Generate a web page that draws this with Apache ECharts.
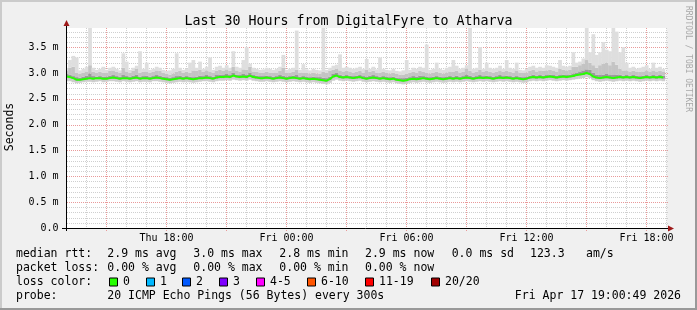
<!DOCTYPE html>
<html><head><meta charset="utf-8">
<script src="https://cdn.jsdelivr.net/npm/echarts@6/dist/echarts.min.js"></script>
<style>html,body{margin:0;padding:0;background:#f0f0f0}#c{width:697px;height:310px}</style>
</head><body><div id="c"></div>
<script>
// time: hours since Thu 00:00; samples every 10 minutes starting Thu 13:00
const startHour = 13;
const stepHours = 1 / 6;

const median = [
2.93,2.92,2.90,2.87,2.87,2.88,2.89,2.90,2.89,2.90,2.90,2.89,
2.89,2.90,2.91,2.90,2.89,2.90,2.90,2.89,2.90,2.91,2.89,2.90,
2.90,2.89,2.90,2.91,2.90,2.89,2.88,2.87,2.88,2.89,2.90,2.89,
2.90,2.89,2.88,2.89,2.90,2.90,2.91,2.90,2.89,2.91,2.92,2.92,
2.93,2.92,2.95,2.93,2.92,2.93,2.92,2.95,2.92,2.91,2.90,2.90,
2.91,2.90,2.89,2.90,2.91,2.90,2.89,2.90,2.91,2.90,2.89,2.90,
2.89,2.88,2.89,2.88,2.87,2.86,2.85,2.88,2.93,2.95,2.92,2.91,
2.92,2.91,2.90,2.91,2.92,2.90,2.89,2.90,2.91,2.90,2.89,2.90,
2.89,2.88,2.89,2.87,2.86,2.85,2.86,2.88,2.89,2.88,2.89,2.90,
2.89,2.88,2.89,2.90,2.89,2.88,2.89,2.90,2.89,2.90,2.89,2.90,
2.91,2.90,2.89,2.90,2.91,2.90,2.91,2.90,2.89,2.90,2.91,2.90,
2.91,2.90,2.89,2.90,2.89,2.88,2.89,2.91,2.92,2.91,2.92,2.91,
2.92,2.93,2.92,2.91,2.92,2.93,2.92,2.93,2.94,2.96,2.97,2.98,
3.00,2.98,2.93,2.91,2.90,2.91,2.92,2.91,2.90,2.91,2.92,2.91,
2.92,2.91,2.92,2.91,2.90,2.91,2.92,2.91,2.92,2.91,2.92,2.91
];
const minPing = [
2.84,2.84,2.82,2.80,2.81,2.82,2.83,2.83,2.82,2.83,2.84,2.82,
2.83,2.84,2.84,2.83,2.82,2.84,2.83,2.82,2.83,2.84,2.82,2.83,
2.83,2.82,2.84,2.84,2.83,2.82,2.81,2.80,2.81,2.82,2.83,2.82,
2.83,2.82,2.81,2.82,2.83,2.84,2.84,2.83,2.82,2.84,2.85,2.85,
2.86,2.85,2.87,2.86,2.85,2.86,2.85,2.87,2.85,2.84,2.83,2.83,
2.84,2.83,2.82,2.83,2.84,2.83,2.82,2.83,2.84,2.83,2.82,2.83,
2.82,2.81,2.82,2.81,2.80,2.79,2.78,2.81,2.85,2.87,2.85,2.84,
2.85,2.84,2.83,2.84,2.85,2.83,2.82,2.83,2.84,2.83,2.82,2.83,
2.82,2.81,2.82,2.80,2.79,2.78,2.79,2.81,2.82,2.81,2.82,2.83,
2.82,2.81,2.82,2.83,2.82,2.81,2.82,2.83,2.82,2.83,2.82,2.83,
2.84,2.83,2.82,2.83,2.84,2.83,2.84,2.83,2.82,2.83,2.84,2.83,
2.84,2.83,2.82,2.83,2.82,2.81,2.82,2.84,2.85,2.84,2.85,2.84,
2.85,2.86,2.85,2.84,2.85,2.86,2.85,2.86,2.87,2.88,2.89,2.90,
2.92,2.90,2.86,2.84,2.83,2.84,2.85,2.84,2.83,2.84,2.85,2.84,
2.85,2.84,2.85,2.84,2.83,2.84,2.85,2.84,2.85,2.84,2.85,2.84
];
const lowSmoke = [
2.91,2.90,2.88,2.85,2.85,2.86,2.87,2.88,2.87,2.88,2.88,2.87,
2.87,2.88,2.89,2.88,2.87,2.88,2.88,2.87,2.88,2.89,2.87,2.88,
2.88,2.87,2.88,2.89,2.88,2.87,2.86,2.85,2.86,2.87,2.88,2.87,
2.88,2.87,2.86,2.87,2.88,2.88,2.89,2.88,2.87,2.89,2.90,2.90,
2.91,2.90,2.93,2.91,2.90,2.91,2.90,2.93,2.90,2.89,2.88,2.88,
2.89,2.88,2.87,2.88,2.89,2.88,2.87,2.88,2.89,2.88,2.87,2.88,
2.87,2.86,2.87,2.86,2.85,2.84,2.83,2.86,2.91,2.93,2.90,2.89,
2.90,2.89,2.88,2.89,2.90,2.88,2.87,2.88,2.89,2.88,2.87,2.88,
2.87,2.86,2.87,2.85,2.84,2.83,2.84,2.86,2.87,2.86,2.87,2.88,
2.87,2.86,2.87,2.88,2.87,2.86,2.87,2.88,2.87,2.88,2.87,2.88,
2.89,2.88,2.87,2.88,2.89,2.88,2.89,2.88,2.87,2.88,2.89,2.88,
2.89,2.88,2.87,2.88,2.87,2.86,2.87,2.89,2.90,2.89,2.90,2.89,
2.90,2.91,2.90,2.89,2.90,2.91,2.90,2.91,2.92,2.94,2.95,2.96,
2.98,2.96,2.91,2.89,2.88,2.89,2.90,2.89,2.88,2.89,2.90,2.89,
2.90,2.89,2.90,2.89,2.88,2.89,2.90,2.89,2.90,2.89,2.90,2.89
];
const highSmoke = [
2.98,2.97,2.94,2.92,2.91,2.93,2.95,2.99,2.94,2.93,2.94,2.93,
2.93,2.95,2.96,2.94,2.93,2.96,2.94,2.93,2.95,2.97,2.93,2.94,
2.95,2.93,2.94,2.96,2.95,2.93,2.92,2.91,2.92,2.94,2.95,2.93,
2.94,2.93,2.92,2.93,2.95,2.94,2.96,2.94,2.93,2.96,2.97,2.96,
2.98,2.96,3.00,2.97,2.96,2.98,2.97,3.01,2.96,2.95,2.94,2.94,
2.95,2.94,2.93,2.94,2.96,2.95,2.93,2.94,2.95,2.96,2.93,2.94,
2.93,2.92,2.93,2.92,2.92,2.91,2.90,2.93,2.98,3.00,2.97,2.95,
2.96,2.95,2.94,2.95,2.96,2.94,2.93,2.95,2.96,2.94,2.93,2.94,
2.93,2.92,2.93,2.91,2.90,2.90,2.91,2.92,2.94,2.93,2.95,2.94,
2.93,2.92,2.93,2.94,2.93,2.92,2.93,2.94,2.93,2.95,2.93,2.94,
2.97,2.95,2.93,2.94,2.96,2.94,2.95,2.94,2.93,2.94,2.96,2.94,
2.95,2.94,2.93,2.94,2.93,2.92,2.93,2.95,2.97,2.95,2.96,2.95,
2.96,2.97,2.96,2.95,2.96,2.97,2.96,2.97,2.99,3.01,3.03,3.05,
3.07,3.06,3.00,2.97,2.96,2.97,2.98,2.96,2.96,2.97,2.97,2.95,
2.96,2.95,2.96,2.95,2.94,2.95,2.96,2.95,2.96,2.95,2.96,2.95
];
const upperSmoke = [
3.05,3.10,3.12,3.00,2.98,3.00,3.03,3.15,3.02,3.00,3.02,3.00,
3.00,3.04,3.05,3.02,3.00,3.10,3.03,3.00,3.04,3.08,3.00,3.02,
3.03,3.00,3.02,3.05,3.04,3.00,2.98,2.97,2.99,3.02,3.04,3.00,
3.02,3.00,3.05,3.04,3.06,3.02,3.05,3.03,3.00,3.04,3.06,3.04,
3.07,3.04,3.12,3.05,3.03,3.07,3.06,3.12,3.03,3.02,3.01,3.00,
3.02,3.01,3.00,3.01,3.04,3.10,3.00,3.01,3.02,3.06,3.00,3.01,
3.00,2.99,3.00,2.99,2.98,3.02,3.00,3.04,3.06,3.08,3.05,3.03,
3.04,3.03,3.01,3.02,3.04,3.01,3.06,3.02,3.04,3.01,3.00,3.02,
3.00,2.99,3.00,2.98,2.97,2.97,2.98,3.00,3.02,3.01,3.04,3.02,
3.00,2.99,3.00,3.02,3.00,2.99,3.01,3.03,3.02,3.04,3.01,3.02,
3.08,3.04,3.01,3.02,3.06,3.02,3.04,3.02,3.01,3.02,3.05,3.02,
3.04,3.02,3.01,3.05,3.01,3.00,3.01,3.04,3.06,3.03,3.05,3.04,
3.05,3.06,3.05,3.03,3.08,3.06,3.05,3.06,3.12,3.12,3.15,3.18,
3.25,3.20,3.15,3.10,3.15,3.18,3.20,3.15,3.22,3.16,3.08,3.05,
3.05,3.03,3.04,3.03,3.02,3.03,3.05,3.03,3.05,3.03,3.04,3.03
];
const maxPing = [
3.10,3.25,3.33,3.30,3.05,3.08,3.12,3.90,3.10,3.06,3.08,3.12,
3.06,3.10,3.12,3.08,3.05,3.38,3.22,3.06,3.10,3.14,3.42,3.08,
3.20,3.06,3.08,3.12,3.10,3.06,3.04,3.05,3.08,3.38,3.10,3.06,
3.08,3.20,3.25,3.10,3.22,3.08,3.12,3.30,3.06,3.12,3.14,3.10,
3.15,3.10,3.42,3.12,3.10,3.25,3.50,3.18,3.10,3.08,3.06,3.07,
3.10,3.08,3.06,3.08,3.12,3.35,3.06,3.08,3.10,3.82,3.06,3.17,
3.07,3.05,3.08,3.06,3.05,3.90,3.06,3.10,3.14,3.16,3.36,3.10,
3.12,3.10,3.08,3.10,3.12,3.08,3.27,3.08,3.12,3.07,3.30,3.08,
3.06,3.05,3.08,3.04,3.03,3.05,3.25,3.06,3.10,3.08,3.12,3.10,
3.55,3.06,3.08,3.20,3.08,3.06,3.10,3.12,3.25,3.14,3.08,3.10,
3.15,3.90,3.08,3.10,3.50,3.08,3.20,3.10,3.08,3.10,3.14,3.08,
3.25,3.10,3.08,3.20,3.06,3.05,3.08,3.12,3.14,3.10,3.12,3.10,
3.15,3.14,3.12,3.10,3.25,3.14,3.12,3.14,3.40,3.20,3.22,3.28,
3.90,3.40,3.75,3.35,3.40,3.60,3.45,3.42,3.90,3.80,3.40,3.50,
3.20,3.10,3.12,3.08,3.10,3.12,3.15,3.08,3.20,3.10,3.12,3.08
];

// grid / tick definitions
const gridHours = [14, 15, 16, 17, 18, 19, 20, 21, 22, 23, 24, 25, 26, 27, 28, 29, 30, 31, 32, 33, 34, 35, 36, 37, 38, 39, 40, 41, 42, 43];
const majorHours = [15, 18, 21, 24, 27, 30, 33, 36, 39, 42];
const gridMs = [0.1, 0.2, 0.3, 0.4, 0.5, 0.6, 0.7, 0.8, 0.9, 1.0, 1.1, 1.2, 1.3, 1.4, 1.5, 1.6, 1.7, 1.8, 1.9, 2.0,
  2.1, 2.2, 2.3, 2.4, 2.5, 2.6, 2.7, 2.8, 2.9, 3.0, 3.1, 3.2, 3.3, 3.4, 3.5, 3.6, 3.7, 3.8];
const majorMs = [0.5, 1.0, 1.5, 2.0, 2.5, 3.0, 3.5];
const xLabelValues = [18, 24, 30, 36, 42];
const xLabelTexts = ['Thu 18:00', 'Fri 00:00', 'Fri 06:00', 'Fri 12:00', 'Fri 18:00'];
const yLabelValues = [0, 0.5, 1, 1.5, 2, 2.5, 3, 3.5];

const titleText = 'Last 30 Hours from DigitalFyre to Atharva';
const rttStats = ['2.9 ms avg', '3.0 ms max', '2.8 ms min', '2.9 ms now', '0.0 ms sd', '123.3', 'am/s'];
const lossStats = ['0.00 % avg', '0.00 % max', '0.00 % min', '0.00 % now'];
const lossLabels = ['0', '1', '2', '3', '4-5', '6-10', '11-19', '20/20'];
const lossColors = ['#26ff00', '#00b8ff', '#0059ff', '#7e00ff', '#ff00ff', '#ff5500', '#ff0000', '#a10000'];
const probeText = '20 ICMP Echo Pings (56 Bytes) every 300s';
const stampText = 'Fri Apr 17 19:00:49 2026';

// ---- build ----
const FONT = '"DejaVu Sans Mono", monospace';
const X_MIN = 13, X_MAX = 43, Y_MAX = 3.87;
const MAJOR = '#e99a9a', MINOR = '#cfcfcf';
const hours = median.map((_, i) => startHour + i * stepHours);
const smokeRows = hours.map((h, i) => [h, minPing[i], lowSmoke[i], highSmoke[i], upperSmoke[i], maxPing[i]]);
const smokeColors = ['#cdcdcd', '#9a9a9a', '#c4c4c4', '#dedede'];
const near = (list, v) => list.some(m => Math.abs(m - v) < 1e-6);

function renderSmoke(params, api) {
  const x = api.value(0);
  const v = [api.value(1), api.value(2), api.value(3), api.value(4), api.value(5)];
  const children = [];
  for (let k = 0; k < 4; k++) {
    const lo = Math.min(v[k], Y_MAX), hi = Math.min(v[k + 1], Y_MAX);
    if (hi <= lo) continue;
    const p1 = api.coord([x - stepHours / 2, hi]);
    const p2 = api.coord([x + stepHours / 2, lo]);
    children.push({ type: 'rect',
      shape: { x: p1[0], y: p1[1], width: p2[0] - p1[0] + 0.4, height: p2[1] - p1[1] },
      style: { fill: smokeColors[k] } });
  }
  return { type: 'group', children };
}
function renderVGrid(params, api) {
  const h = api.value(0);
  const major = near(majorHours, h);
  const b = api.coord([h, 0]), t = api.coord([h, Y_MAX]);
  const x = Math.floor(b[0]) + 0.5;
  return { type: 'line', shape: { x1: x, y1: Math.round(t[1]), x2: x, y2: Math.round(b[1]) + (major ? 3 : 0) },
    style: { stroke: major ? MAJOR : MINOR, lineWidth: 1, lineDash: [1, 1] }, z2: major ? 2 : 1 };
}
function renderHGrid(params, api) {
  const v = api.value(1);
  const major = near(majorMs, v);
  const l = api.coord([X_MIN, v]), r = api.coord([X_MAX, v]);
  const y = Math.round(l[1]) + 0.5;
  return { type: 'line', shape: { x1: Math.floor(l[0]) + 1, y1: y, x2: Math.round(r[0]) + 2, y2: y },
    style: { stroke: major ? MAJOR : MINOR, lineWidth: 1, lineDash: [1, 1] }, z2: major ? 2 : 1 };
}

const chart = echarts.init(document.getElementById('c'), null, { renderer: 'canvas' });

const g = [];
g.push({ type: 'rect', shape: { x: 0, y: 0, width: 697, height: 2 }, style: { fill: '#cbcbcb' }, z: 100 });
g.push({ type: 'rect', shape: { x: 0, y: 0, width: 2, height: 310 }, style: { fill: '#cbcbcb' }, z: 100 });
g.push({ type: 'rect', shape: { x: 0, y: 308, width: 697, height: 2 }, style: { fill: '#999999' }, z: 100 });
g.push({ type: 'rect', shape: { x: 695, y: 0, width: 2, height: 310 }, style: { fill: '#999999' }, z: 100 });
g.push({ type: 'line', shape: { x1: 62, y1: 228.5, x2: 669, y2: 228.5 }, style: { stroke: '#000', lineWidth: 1 }, z: 50 });
g.push({ type: 'line', shape: { x1: 66.5, y1: 231, x2: 66.5, y2: 24 }, style: { stroke: '#000', lineWidth: 1 }, z: 50 });
g.push({ type: 'polygon', shape: { points: [[63.5, 26], [69.5, 26], [66.5, 20]] }, style: { fill: '#9e1a1a' }, z: 51 });
g.push({ type: 'polygon', shape: { points: [[668, 225.5], [668, 231.5], [674, 228.5]] }, style: { fill: '#9e1a1a' }, z: 51 });
g.push({ type: 'text', x: 10, y: 127, rotation: Math.PI / 2,
  style: { text: 'Seconds', font: '11.5px ' + FONT, fill: '#000', align: 'center', verticalAlign: 'middle' } });
g.push({ type: 'text', x: 688, y: 59, rotation: -Math.PI / 2,
  style: { text: 'RRDTOOL / TOBI OETIKER', font: '8px ' + FONT, fill: '#a8a8a8', align: 'center', verticalAlign: 'middle' } });

const rowY = [254.5, 268.5, 282.5, 296.5];
const T = (text, x, y, align) => ({ type: 'text', x, y,
  style: { text, font: '11.5px ' + FONT, fill: '#000', align: align || 'left', verticalAlign: 'middle' } });
g.push(T('median rtt:', 16, rowY[0]));
const rttX = [107.3, 193.3, 279.3, 365, 451.7, 530, 586];
rttStats.forEach((s, i) => g.push(T(s, rttX[i], rowY[0])));
g.push(T('packet loss:', 16, rowY[1]));
lossStats.forEach((s, i) => g.push(T(s, rttX[i], rowY[1])));
g.push(T('loss color:', 16, rowY[2]));
const boxX = [109, 146, 182, 219, 256, 307, 365, 431];
lossLabels.forEach((s, i) => {
  g.push({ type: 'rect', shape: { x: boxX[i] + 0.5, y: rowY[2] - 4.5, width: 8, height: 8 },
    style: { fill: lossColors[i], stroke: '#000', lineWidth: 1 } });
  g.push(T(s, boxX[i] + 14, rowY[2]));
});
g.push(T('probe:', 16, rowY[3]));
g.push(T(probeText, 107.3, rowY[3]));
g.push(T(stampText, 681, rowY[3], 'right'));

const option = {
  animation: false,
  backgroundColor: '#f0f0f0',
  title: { text: titleText, left: 'center', top: 10,
    textStyle: { fontFamily: FONT, fontSize: 13.3, fontWeight: 'normal', color: '#000' } },
  grid: { left: 66.5, top: 28, width: 600, bottom: 82, show: true, backgroundColor: '#ffffff', borderWidth: 0 },
  xAxis: {
    type: 'value', min: X_MIN, max: X_MAX, interval: 1,
    axisLine: { show: false }, axisTick: { show: false }, splitLine: { show: false },
    axisLabel: { margin: 5, color: '#000', fontFamily: FONT, fontSize: 10, showMinLabel: true, showMaxLabel: true,
      formatter: v => { const k = xLabelValues.indexOf(Math.round(v)); return (k >= 0 && Math.abs(v - Math.round(v)) < 1e-6) ? xLabelTexts[k] : ''; } }
  },
  yAxis: {
    type: 'value', min: 0, max: Y_MAX, interval: 0.1,
    axisLine: { show: false }, axisTick: { show: false }, splitLine: { show: false },
    axisLabel: { margin: 8, color: '#000', fontFamily: FONT, fontSize: 10,
      formatter: v => {
        if (!near(yLabelValues, v)) return '';
        return Math.abs(v) < 1e-9 ? '0.0' : v.toFixed(1) + ' m';
      } }
  },
  series: [
    { name: 'vgrid', type: 'custom', renderItem: renderVGrid, data: gridHours.map(h => [h, 0]),
      encode: { x: 0, y: 1 }, silent: true, clip: false, z: 1 },
    { name: 'hgrid', type: 'custom', renderItem: renderHGrid, data: gridMs.map(v => [X_MIN, v]),
      encode: { x: 0, y: 1 }, silent: true, clip: false, z: 1 },
    { name: 'smoke', type: 'custom', renderItem: renderSmoke, data: smokeRows,
      encode: { x: 0, y: [1, 2, 3, 4, 5] }, silent: true, clip: true, z: 2 },
    { name: 'median rtt', type: 'line', data: hours.map((h, i) => [h, median[i]]), showSymbol: false, silent: true,
      lineStyle: { color: lossColors[0], width: 2 }, z: 5 }
  ],
  graphic: g
};
chart.setOption(option);
</script>
</body></html>
